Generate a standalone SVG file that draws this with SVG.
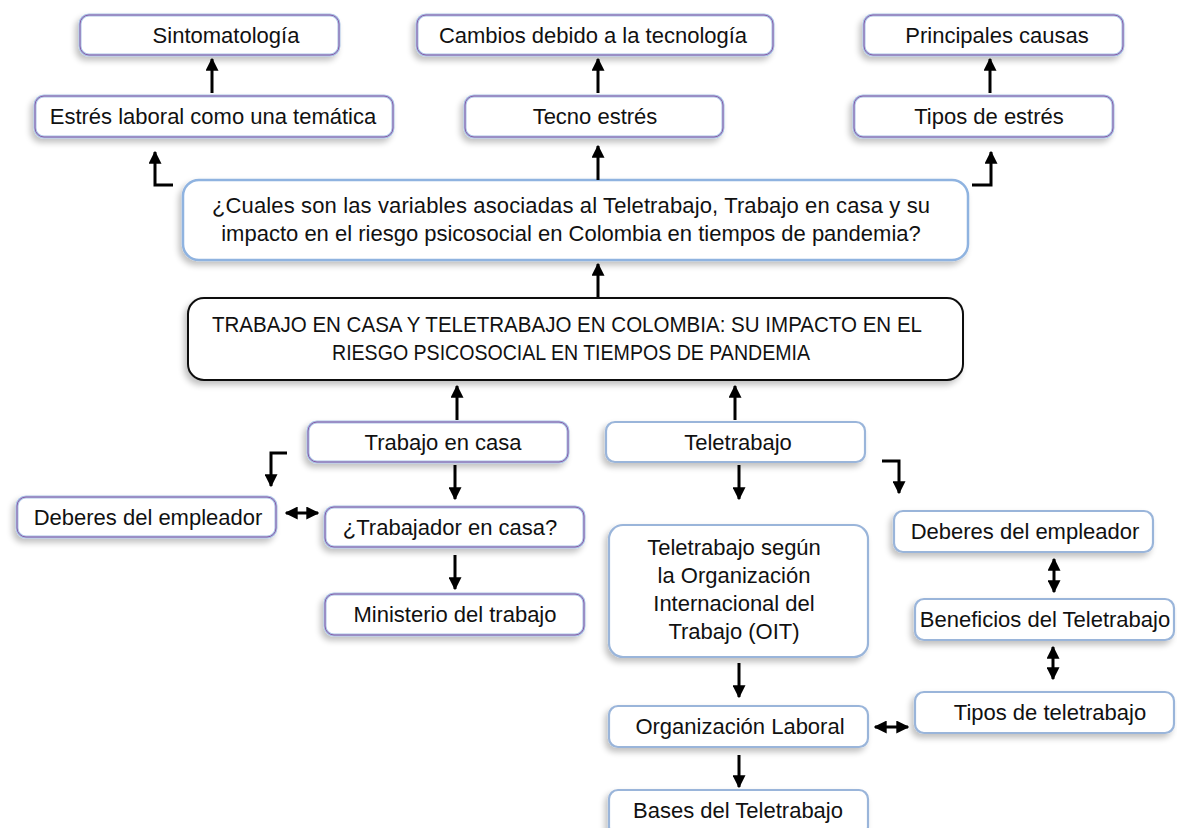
<svg xmlns="http://www.w3.org/2000/svg" width="1177" height="828" viewBox="0 0 1177 828">
<style>
text{font-family:"Liberation Sans",Arial,sans-serif;font-size:22px;fill:#111;text-anchor:middle}
.o{fill:#fff;stroke:#a9c3e6;stroke-width:3;filter:url(#sh)}
.p{fill:none;stroke:#8a5aa6;stroke-width:1}
.b{fill:#fff;stroke:#9ab5da;stroke-width:2.2;filter:url(#sh)}
.q{fill:#fff;stroke:#8fb3e0;stroke-width:2.5;filter:url(#sh)}
.t{fill:#fff;stroke:#111;stroke-width:2;filter:url(#sh)}
.c{fill:none;stroke:#000;stroke-width:3}
.a{marker-end:url(#ah)}
.d{marker-start:url(#ah);marker-end:url(#ah)}
</style>
<defs>
<filter id="sh" x="-10%" y="-30%" width="120%" height="170%">
<feGaussianBlur in="SourceAlpha" stdDeviation="3"/>
<feOffset dx="-3" dy="4" result="o"/>
<feComponentTransfer><feFuncA type="linear" slope="0.25"/></feComponentTransfer>
<feMerge><feMergeNode/><feMergeNode in="SourceGraphic"/></feMerge>
</filter>
<marker id="ah" viewBox="0 0 10 10" refX="9" refY="5" markerUnits="userSpaceOnUse" markerWidth="13" markerHeight="13" orient="auto-start-reverse">
<path d="M0,0 L10,5 L0,10 z" fill="#000"/>
</marker>
</defs>

<g id="n-sintomatologia"><rect class="o" x="80" y="15" width="259" height="40" rx="9"/><rect class="p" x="80" y="15" width="259" height="40" rx="9"/><text x="226" y="42.5">Sintomatología</text></g>
<g id="n-estres-laboral"><rect class="o" x="35" y="96" width="358" height="41" rx="9"/><rect class="p" x="35" y="96" width="358" height="41" rx="9"/><text x="213" y="124">Estrés laboral como una temática</text></g>
<g id="n-cambios"><rect class="o" x="417" y="15" width="356" height="40" rx="9"/><rect class="p" x="417" y="15" width="356" height="40" rx="9"/><text x="593" y="42.5">Cambios debido a la tecnología</text></g>
<g id="n-tecno-estres"><rect class="o" x="465" y="96" width="258" height="41" rx="9"/><rect class="p" x="465" y="96" width="258" height="41" rx="9"/><text x="595" y="124">Tecno estrés</text></g>
<g id="n-principales"><rect class="o" x="864" y="15" width="259" height="40" rx="9"/><rect class="p" x="864" y="15" width="259" height="40" rx="9"/><text x="997" y="42.5">Principales causas</text></g>
<g id="n-tipos-estres"><rect class="o" x="854" y="96" width="259" height="41" rx="9"/><rect class="p" x="854" y="96" width="259" height="41" rx="9"/><text x="989" y="124">Tipos de estrés</text></g>

<g id="n-pregunta"><rect class="q" x="183" y="180" width="785" height="80" rx="16"/>
<text x="571" y="213" textLength="718" lengthAdjust="spacing">¿Cuales son las variables asociadas al Teletrabajo, Trabajo en casa y su</text>
<text x="571" y="241">impacto en el riesgo psicosocial en Colombia en tiempos de pandemia?</text></g>

<g id="n-titulo"><rect class="t" x="188" y="298" width="775" height="82" rx="16"/>
<text x="567" y="332" font-size="21" textLength="710" lengthAdjust="spacingAndGlyphs">TRABAJO EN CASA Y TELETRABAJO EN COLOMBIA: SU IMPACTO EN EL</text>
<text x="571" y="360" font-size="21" textLength="478" lengthAdjust="spacingAndGlyphs">RIESGO PSICOSOCIAL EN TIEMPOS DE PANDEMIA</text></g>

<g id="n-trabajo-casa"><rect class="o" x="308" y="422" width="260" height="40" rx="9"/><rect class="p" x="308" y="422" width="260" height="40" rx="9"/><text x="443" y="449.5">Trabajo en casa</text></g>
<g id="n-deberes-izq"><rect class="o" x="17" y="497" width="259" height="40" rx="9"/><rect class="p" x="17" y="497" width="259" height="40" rx="9"/><text x="148" y="524.5">Deberes del empleador</text></g>
<g id="n-trabajador-casa"><rect class="o" x="325" y="507" width="259" height="40" rx="9"/><rect class="p" x="325" y="507" width="259" height="40" rx="9"/><text x="450" y="534.5">¿Trabajador en casa?</text></g>
<g id="n-ministerio"><rect class="o" x="325" y="594" width="259" height="41" rx="9"/><rect class="p" x="325" y="594" width="259" height="41" rx="9"/><text x="455" y="622">Ministerio del trabajo</text></g>

<g id="n-teletrabajo"><rect class="b" x="606" y="422" width="259" height="40" rx="9"/><text x="738" y="449.5">Teletrabajo</text></g>
<g id="n-oit"><rect class="b" x="609" y="525" width="259" height="132" rx="14"/>
<text x="734" y="555">Teletrabajo según</text>
<text x="734" y="583">la Organización</text>
<text x="734" y="611">Internacional del</text>
<text x="734" y="639">Trabajo (OIT)</text></g>
<g id="n-deberes-der"><rect class="b" x="894" y="511" width="259" height="41" rx="9"/><text x="1025" y="539">Deberes del empleador</text></g>
<g id="n-beneficios"><rect class="b" x="915" y="599" width="259" height="41" rx="9"/><text x="1045" y="627">Beneficios del Teletrabajo</text></g>
<g id="n-tipos-teletrabajo"><rect class="b" x="915" y="692" width="259" height="41" rx="9"/><text x="1050" y="720">Tipos de teletrabajo</text></g>
<g id="n-organizacion"><rect class="b" x="609" y="706" width="259" height="41" rx="9"/><text x="740" y="734">Organización Laboral</text></g>
<g id="n-bases"><rect class="b" x="609" y="790" width="259" height="46" rx="9"/><text x="738" y="818">Bases del Teletrabajo</text></g>

<g id="connectors">
<path class="c a" d="M212,93 V59"/>
<path class="c a" d="M598,93 V59"/>
<path class="c a" d="M990,93 V59"/>
<path class="c a" d="M598,180 V146"/>
<path class="c a" d="M173,185 H155 V152"/>
<path class="c a" d="M972,185 H991 V152"/>
<path class="c a" d="M598,297 V264"/>
<path class="c a" d="M457,420 V386"/>
<path class="c a" d="M735,420 V386"/>
<path class="c a" d="M455,465 V499"/>
<path class="c a" d="M455,555 V589"/>
<path class="c a" d="M287,453 H271 V486"/>
<path class="c d" d="M286,513 H318"/>
<path class="c a" d="M739,465 V499"/>
<path class="c a" d="M882,461 H899 V493"/>
<path class="c d" d="M1054,559 V592"/>
<path class="c d" d="M1053,647 V679"/>
<path class="c a" d="M739,663 V697"/>
<path class="c d" d="M875,727 H908"/>
<path class="c a" d="M739,755 V787"/>
</g>
</svg>
